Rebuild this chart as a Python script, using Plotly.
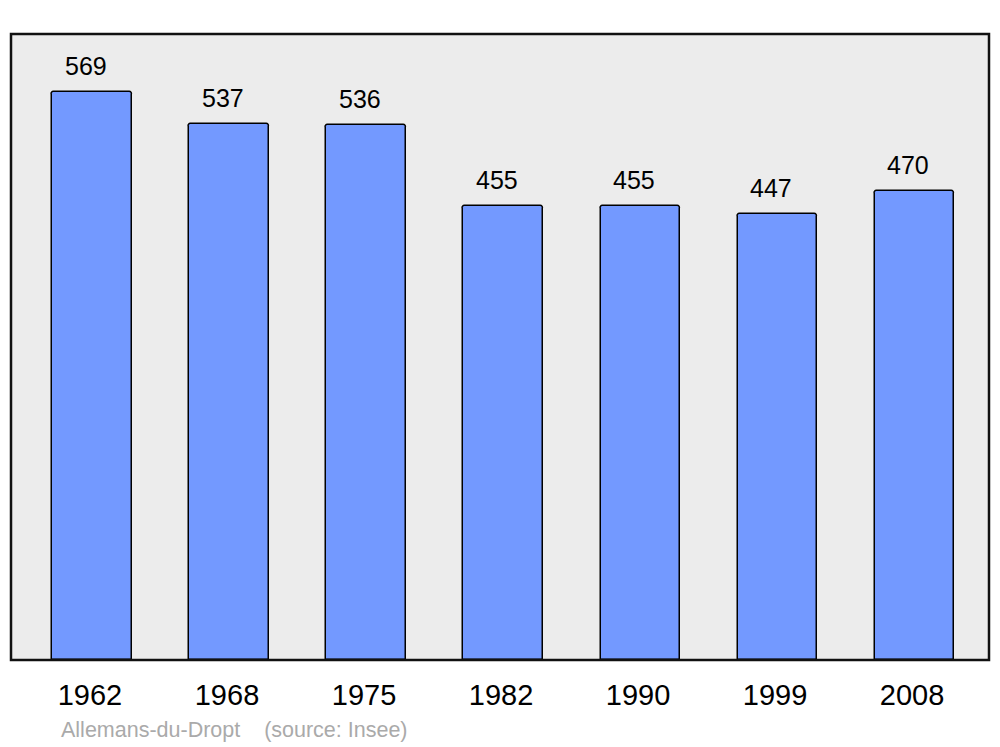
import plotly.graph_objects as go

years = ["1962", "1968", "1975", "1982", "1990", "1999", "2008"]
population = [569, 537, 536, 455, 455, 447, 470]
source_text = "Allemans-du-Dropt    (source: Insee)"

FONT = "Liberation Sans, Arial, sans-serif"

fig = go.Figure()
fig.add_trace(go.Bar(
    x=list(range(len(years))), y=population,
    width=0.577,
    marker=dict(color="#7399ff", line=dict(color="#000000", width=1.5), cornerradius=3),
    hoverinfo="skip",
))

for i, v in enumerate(population):
    fig.add_annotation(x=i, y=v, text=str(v), showarrow=False, xref="x", yref="y",
                       yanchor="bottom", yshift=10, xshift=-6,
                       font=dict(family=FONT, size=25, color="#000000"))

fig.add_annotation(x=0.049, y=-0.112, xref="paper", yref="paper", text=source_text,
                   showarrow=False, xanchor="left", yanchor="middle",
                   font=dict(family=FONT, size=21.5, color="#aaaaaa"))

fig.add_shape(type="rect", xref="paper", yref="paper", x0=0, y0=0, x1=1, y1=1,
              line=dict(color="#111111", width=2.5), layer="above")

fig.update_layout(
    width=1000, height=747,
    margin=dict(l=11, r=11, t=34, b=87),
    paper_bgcolor="#ffffff", plot_bgcolor="#ececec",
    showlegend=False,
    bargap=0,
    xaxis=dict(range=[-0.591, 6.547], tickmode="array", tickvals=list(range(len(years))),
               ticktext=years, showgrid=False, zeroline=False, showline=False,
               ticks="", ticklabelstandoff=15, ticklabelshift=-2,
               tickfont=dict(family=FONT, size=29, color="#000000")),
    yaxis=dict(range=[0, 627], showgrid=False, zeroline=False, showticklabels=False, showline=False),
)

fig.write_html("out.html", config={"displayModeBar": False},
               post_script="document.body.style.margin='0';document.body.style.overflow='hidden';")
